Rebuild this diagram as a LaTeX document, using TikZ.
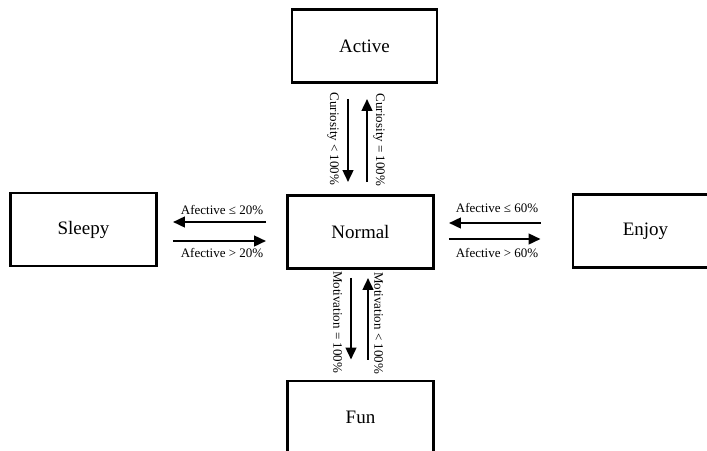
\documentclass[tikz,border=0pt]{standalone}
\usepackage{fontspec}
\setmainfont{Liberation Serif}
\usetikzlibrary{arrows.meta}
\begin{document}
\begin{tikzpicture}[x=1pt,y=-1pt,
  state/.style={draw, line width=2.8pt, minimum width=145pt, minimum height=73pt, inner sep=0pt, font=\fontsize{19}{22}\selectfont},
  arr/.style={line width=2.6pt, -{Triangle[length=12pt,width=10.5pt]}},
  lbl/.style={font=\fontsize{13}{15}\selectfont, inner sep=0pt},
  vlbl/.style={lbl, rotate=-90}]
\useasboundingbox (0,0) rectangle (707,450);
\clip (0,0) rectangle (707,450);
\fill[white] (0,0) rectangle (707,450);
\node[state] (active) at (364.5,46) {Active};
\node[state, minimum width=146pt] (normal) at (360.5,232) {Normal};
\node[state, minimum width=146pt] (sleepy) at (83.5,229.5) {Sleepy};
\node[state] (enjoy) at (645.5,231) {Enjoy};
\node[state, minimum width=146pt] (fun) at (360.5,417.5) {Fun};
% vertical x positions
\coordinate (xa1) at (348,0);
\coordinate (xa2) at (367,0);
\coordinate (xf1) at (351,0);
\coordinate (xf2) at (368,0);
% horizontal y positions
\coordinate (ys1) at (0,222);
\coordinate (ys2) at (0,241);
\coordinate (ye1) at (0,223);
\coordinate (ye2) at (0,239);
% Active <-> Normal
\draw[arr, shorten <=15pt, shorten >=12pt] (active.south -| xa1) -- (normal.north -| xa1);
\draw[arr, shorten <=12pt, shorten >=15pt] (normal.north -| xa2) -- (active.south -| xa2);
% Normal <-> Fun
\draw[arr, shorten <=8pt, shorten >=20pt] (normal.south -| xf1) -- (fun.north -| xf1);
\draw[arr, shorten <=20pt, shorten >=8pt] (fun.north -| xf2) -- (normal.south -| xf2);
% Normal <-> Sleepy
\draw[arr, shorten <=20pt, shorten >=15pt] (normal.west |- ys1) -- (sleepy.east |- ys1);
\draw[arr, shorten <=15pt, shorten >=20pt] (sleepy.east |- ys2) -- (normal.west |- ys2);
% Normal <-> Enjoy
\draw[arr, shorten <=31pt, shorten >=14pt] (enjoy.west |- ye1) -- (normal.east |- ye1);
\draw[arr, shorten <=14pt, shorten >=31pt] (normal.east |- ye2) -- (enjoy.west |- ye2);
% labels
\node[vlbl] (lc1) at (333,139) {Curiosity < 100\%};
\node[vlbl] (lc2) at (379,140) {Curiosity = 100\%};
\node[vlbl] (lm1) at (337.5,322) {Motivation = 100\%};
\node[vlbl] (lm2) at (378.5,323) {Motivation < 100\%};
\node[lbl] (ls1) at (222,210) {Afective ≤ 20\%};
\node[lbl] (ls2) at (222,253) {Afective > 20\%};
\node[lbl] (le1) at (497,208) {Afective ≤ 60\%};
\node[lbl] (le2) at (497,253) {Afective > 60\%};
\end{tikzpicture}
\end{document}
